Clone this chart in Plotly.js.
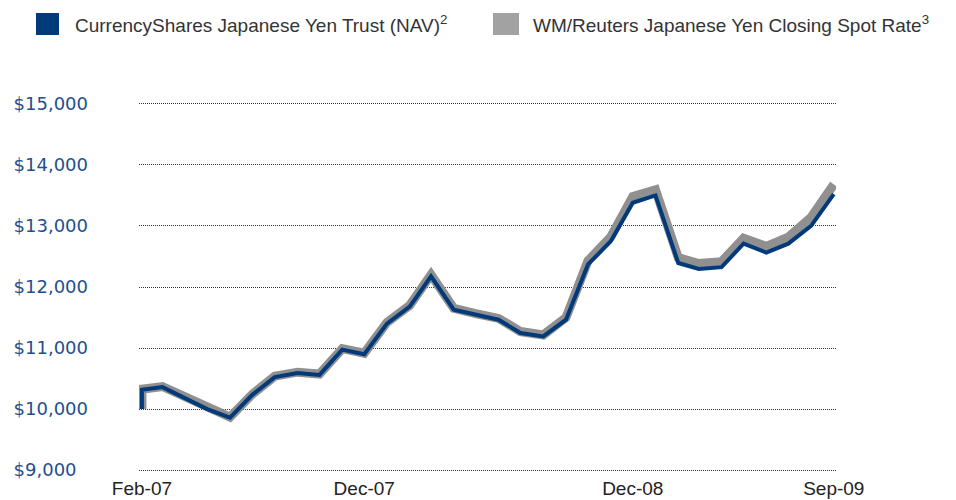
<!DOCTYPE html>
<html>
<head>
<meta charset="utf-8">
<script src="https://cdn.plot.ly/plotly-3.0.1.min.js"></script>
<style>
  html, body { margin: 0; padding: 0; background: #fff; }
  #chart { width: 956px; height: 500px; }
</style>
</head>
<body>
<div id="chart"></div>
<script>
// ---- data (first entry = inception value of $10,000) ----
const dates = ['2007-02-01','2007-02-01','2007-03-01','2007-04-01','2007-05-01','2007-06-01','2007-07-01','2007-08-01','2007-09-01','2007-10-01','2007-11-01','2007-12-01',
  '2008-01-01','2008-02-01','2008-03-01','2008-04-01','2008-05-01','2008-06-01','2008-07-01','2008-08-01','2008-09-01','2008-10-01','2008-11-01','2008-12-01',
  '2009-01-01','2009-02-01','2009-03-01','2009-04-01','2009-05-01','2009-06-01','2009-07-01','2009-08-01','2009-09-01'];
const navValues = [10000, 10316, 10360, 10180, 10000, 9860, 10230, 10525, 10590, 10560, 10975, 10900,
  11400, 11680, 12174, 11628, 11545, 11464, 11246, 11190, 11464, 12370, 12749, 13380,
  13500, 12393, 12295, 12325, 12710, 12565, 12710, 13000, 13520];
const spotValues = [10000, 10325, 10370, 10190, 10010, 9870, 10240, 10540, 10605, 10575, 10990, 10915,
  11420, 11700, 12200, 11650, 11565, 11485, 11270, 11215, 11500, 12430, 12820, 13480,
  13590, 12480, 12385, 12415, 12800, 12665, 12815, 13140, 13680];
const seriesNames = ['CurrencyShares Japanese Yen Trust (NAV)<sup>2</sup>', 'WM/Reuters Japanese Yen Closing Spot Rate<sup>3</sup>'];
const xTickVals = ['2007-02-01', '2007-12-01', '2008-12-01', '2009-09-01'];
const xTickText = ['Feb-07', 'Dec-07', 'Dec-08', 'Sep-09'];
const yTickVals = [9000, 10000, 11000, 12000, 13000, 14000, 15000];
// figure space (U+2007) pads the shorter label so all labels line up on the left
const yTickText = ['$9,000\u2007', '$10,000', '$11,000', '$12,000', '$13,000', '$14,000', '$15,000'];

// ---- layout geometry ----
const W = 956, H = 500;
const M = {l: 139, r: 120, t: 102, b: 28};
const plotW = W - M.l - M.r, plotH = H - M.t - M.b;
const px = v => (v - M.l) / plotW;          // pixel -> paper x
const py = v => (H - M.b - v) / plotH;      // pixel -> paper y

const navColor = '#003a7a', spotColor = '#909090';
const textFont = 'Liberation Sans, Arial, sans-serif';

const traces = [
  {x: dates, y: spotValues, name: seriesNames[1], type: 'scatter', mode: 'lines',
   line: {color: spotColor, width: 9, shape: 'linear'}, showlegend: false, hoverinfo: 'x+y'},
  {x: dates, y: navValues, name: seriesNames[0], type: 'scatter', mode: 'lines',
   line: {color: navColor, width: 4, shape: 'linear'}, showlegend: false, hoverinfo: 'x+y'}
];

// legend swatches (shapes) + legend text (annotations)
const shapes = [
  {type: 'rect', xref: 'paper', yref: 'paper', x0: px(36), x1: px(59), y0: py(35), y1: py(13),
   fillcolor: navColor, line: {width: 0}, layer: 'above'},
  {type: 'rect', xref: 'paper', yref: 'paper', x0: px(493), x1: px(519), y0: py(35), y1: py(13),
   fillcolor: '#c8c8c8', line: {width: 0}, layer: 'above'}
];
for (let s = 494; s < 519; s += 2) {
  shapes.push({type: 'line', xref: 'paper', yref: 'paper', x0: px(s), x1: px(s), y0: py(35), y1: py(13),
    line: {color: '#7c7c7c', width: 1}, layer: 'above'});
}
const annotations = [
  {xref: 'paper', yref: 'paper', x: px(73), y: py(24), xanchor: 'left', yanchor: 'middle', showarrow: false,
   text: seriesNames[0], font: {family: textFont, size: 19, color: '#333'}},
  {xref: 'paper', yref: 'paper', x: px(531), y: py(24), xanchor: 'left', yanchor: 'middle', showarrow: false,
   text: seriesNames[1], font: {family: textFont, size: 19, color: '#333'}}
];

const layout = {
  width: W, height: H,
  margin: M,
  paper_bgcolor: '#fff', plot_bgcolor: '#fff',
  showlegend: false,
  xaxis: {
    type: 'date',
    range: ['2007-01-28', '2009-09-04'],
    tickmode: 'array', tickvals: xTickVals, ticktext: xTickText,
    showgrid: false, zeroline: false, showline: false, ticks: '', ticklabelstandoff: 3,
    tickfont: {family: textFont, size: 19, color: '#222'}
  },
  yaxis: {
    range: [8970, 15030], tickmode: 'array', tickvals: yTickVals, ticktext: yTickText,
    showgrid: true, gridcolor: '#333', gridwidth: 1, griddash: '1px,1px',
    zeroline: false, showline: false, ticks: '', ticklabelstandoff: 50,
    tickfont: {family: 'DejaVu Sans, sans-serif', size: 18, color: '#1f4f8f'}
  },
  shapes: shapes,
  annotations: annotations
};

Plotly.newPlot('chart', traces, layout, {displayModeBar: false, staticPlot: true});
</script>
</body>
</html>
